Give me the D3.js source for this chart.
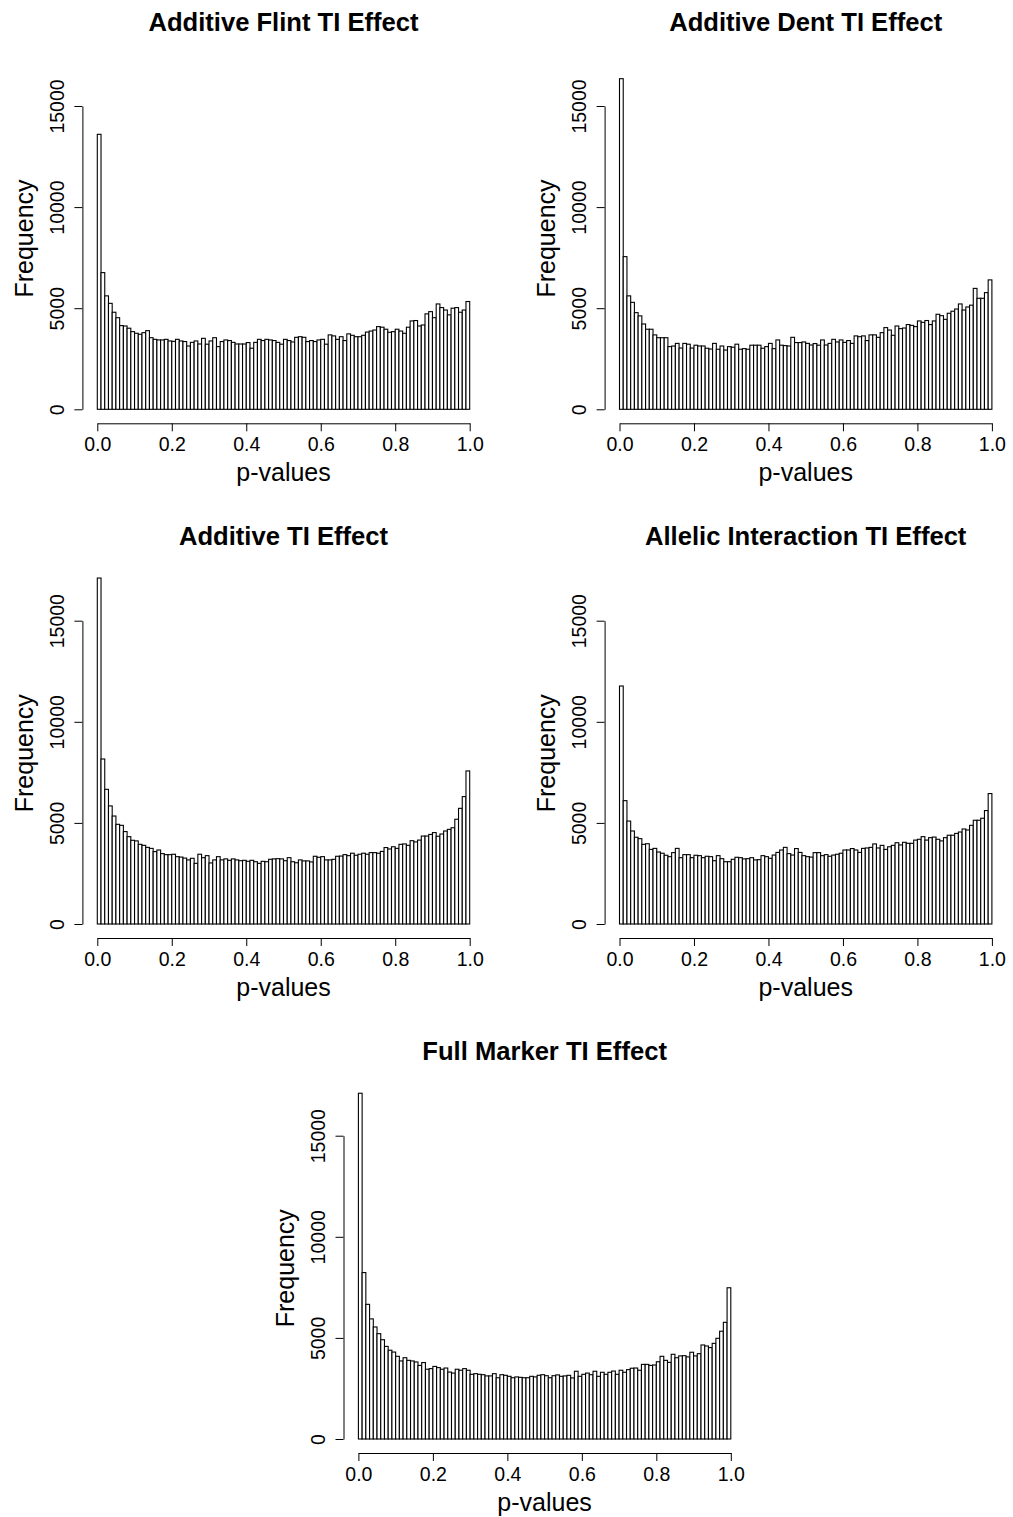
<!DOCTYPE html>
<html><head><meta charset="utf-8">
<script src="https://cdn.jsdelivr.net/npm/d3@7"></script>
<style>body{margin:0;background:#fff}svg{display:block}</style>
</head><body><svg id="c" width="1013" height="1517"></svg>
<script>
const flint = [13600,6760,5610,5240,4800,4530,4140,4120,4010,3840,
3760,3710,3790,3890,3540,3460,3430,3430,3460,3380,
3360,3460,3380,3350,3130,3310,3380,3230,3510,3220,
3380,3540,3100,3350,3430,3400,3310,3230,3230,3230,
3300,3020,3310,3460,3400,3460,3430,3400,3310,
3220,3460,3400,3330,3560,3590,3560,3350,3400,3350,3430,
3460,3220,3680,3630,3460,3590,3400,3730,3660,3590,
3590,3660,3820,3870,3920,4090,4060,3960,3810,3840,
3960,3870,3760,4060,4370,4390,4120,4170,4720,4830,
4530,5210,5030,4910,4670,5000,5030,4800,4910,5330];
const dent = [16350,7550,5610,5290,4780,4620,4220,3960,3960,3680,
3540,3540,3540,3100,3130,3260,3030,3260,3220,3030,
3170,3130,3130,3020,2980,3260,2970,3130,2930,3100,
3070,3220,2970,3000,2970,3170,3170,3170,3020,3100,
3260,3000,3430,3170,3150,3130,3560,3300,3300,
3330,3260,3180,3250,3170,3430,3180,3260,3460,3330,3430,
3310,3400,3260,3630,3590,3630,3400,3680,3680,3560,
3790,4040,3920,3660,4120,3990,4020,4190,4150,4090,
4370,4300,4390,4190,4370,4700,4630,4450,4750,4850,
4960,5210,4910,5060,5150,5980,5490,5490,5770,6400];
const additive = [17110,8160,6660,5840,5340,4930,4880,4570,4320,4140,
4110,3940,3890,3790,3740,3580,3660,3480,3430,3430,
3450,3330,3310,3260,3170,3250,3000,3450,3280,3380,
3020,3170,3330,3170,3220,3150,3220,3170,3130,3150,
3100,3150,3080,3000,3100,3080,3200,3220,3230,
3220,3130,3280,3080,3030,3170,3120,3120,3070,3350,3300,
3330,3170,3170,3200,3350,3360,3430,3380,3500,3400,
3450,3500,3450,3530,3530,3500,3590,3780,3710,3820,
3740,3940,3960,3890,4120,4060,4150,4350,4350,4430,
4520,4340,4450,4600,4680,4760,5180,5720,6300,7570];
const allelic = [11770,6100,5090,4600,4290,4220,3940,3970,3690,3740,
3560,3500,3400,3330,3530,3740,3280,3430,3430,3280,
3400,3380,3280,3350,3330,3130,3380,3230,3080,3080,
3200,3300,3280,3220,3230,3280,3170,3180,3380,3330,
3250,3410,3540,3660,3790,3480,3410,3730,3540,
3380,3330,3310,3530,3530,3380,3430,3350,3410,3450,3500,
3660,3660,3730,3660,3540,3740,3760,3790,3960,3760,
3890,3690,3820,3890,4020,3910,4040,3990,3990,4150,
4190,4320,4150,4270,4300,4190,4110,4270,4390,4390,
4480,4550,4700,4650,4880,5130,5130,5230,5610,6450];
const fullMarker = [17100,8230,6660,5940,5540,5210,4910,4580,4390,4300,
4090,3860,4020,3890,3860,3810,3640,3780,3450,3480,
3590,3530,3450,3510,3310,3260,3450,3400,3480,3400,
3200,3230,3200,3180,3120,3120,3230,3030,3180,3150,
3100,3030,3070,3050,3030,3030,3100,3070,3150,
3180,3130,3030,3130,3170,3100,3120,3150,3020,3350,3100,
3200,3260,3180,3350,3100,3300,3200,3300,3360,3200,
3400,3300,3430,3500,3510,3400,3690,3690,3640,3660,
3820,4090,3890,3790,4190,4020,4110,4120,4060,4290,
4110,4220,4650,4600,4520,4730,4980,5330,5770,7480];

const titles = ["Additive Flint TI Effect","Additive Dent TI Effect","Additive TI Effect","Allelic Interaction TI Effect","Full Marker TI Effect"];
const xLabel = "p-values";
const yLabel = "Frequency";
const xTicks = [0,0.2,0.4,0.6,0.8,1.0];
const yTicks = [0,5000,10000,15000];
const breaks = d3.range(101).map(i => i/100);

const FONT = "'Liberation Sans', Arial, Helvetica, sans-serif";
const svg = d3.select("#c");
svg.append("rect").attr("width",1013).attr("height",1517).attr("fill","#fff");

const panels = [
  {title: titles[0], data: flint, dx: 0, dy: 0},
  {title: titles[1], data: dent, dx: 522.2, dy: 0},
  {title: titles[2], data: additive, dx: 0, dy: 514.7},
  {title: titles[3], data: allelic, dx: 522.2, dy: 514.7},
  {title: titles[4], data: fullMarker, dx: 261.1, dy: 1029.7}
];

panels.forEach(p => {
  const g = svg.append("g").attr("transform", `translate(${p.dx},${p.dy})`);
  const x = d3.scaleLinear().domain([0,1]).range([97.3, 469.7]);
  const y = d3.scaleLinear().domain([0,15000]).range([409.3, 106]);

  g.append("g").selectAll("rect").data(p.data).join("rect")
    .attr("x", (d,i) => x(breaks[i]))
    .attr("width", (d,i) => x(breaks[i+1]) - x(breaks[i]))
    .attr("y", d => y(d))
    .attr("height", d => y(0) - y(d))
    .attr("fill", "#fff")
    .attr("stroke", "#000")
    .attr("stroke-width", 1.1);

  const xa = g.append("g").attr("transform", "translate(0,423.3)")
    .call(d3.axisBottom(x).tickValues(xTicks).tickFormat(d3.format(".1f")).tickSize(8).tickSizeOuter(0));
  xa.selectAll("text").attr("y", 27.5).attr("dy", null)
    .attr("font-size", 19.5).attr("font-family", FONT).attr("fill", "#000");

  const ya = g.append("g").attr("transform", "translate(82.4,0)")
    .call(d3.axisLeft(y).tickValues(yTicks).tickFormat(d3.format("d")).tickSize(8).tickSizeOuter(0));
  ya.selectAll("text").attr("x", null).attr("dy", null)
    .attr("transform", "translate(-18.4,0) rotate(-90)")
    .attr("text-anchor", "middle")
    .attr("font-size", 19.5).attr("font-family", FONT).attr("fill", "#000");

  g.append("text").attr("x", 283.5).attr("y", 30.5)
    .attr("text-anchor", "middle").attr("font-family", FONT)
    .attr("font-weight", "bold").attr("font-size", 25.6).text(p.title);

  g.append("text").attr("x", 283.5).attr("y", 481)
    .attr("text-anchor", "middle").attr("font-family", FONT)
    .attr("font-size", 25).text(xLabel);

  g.append("text").attr("transform", "translate(33,238.5) rotate(-90)")
    .attr("text-anchor", "middle").attr("font-family", FONT)
    .attr("font-size", 25).text(yLabel);
});
</script>
</body></html>
